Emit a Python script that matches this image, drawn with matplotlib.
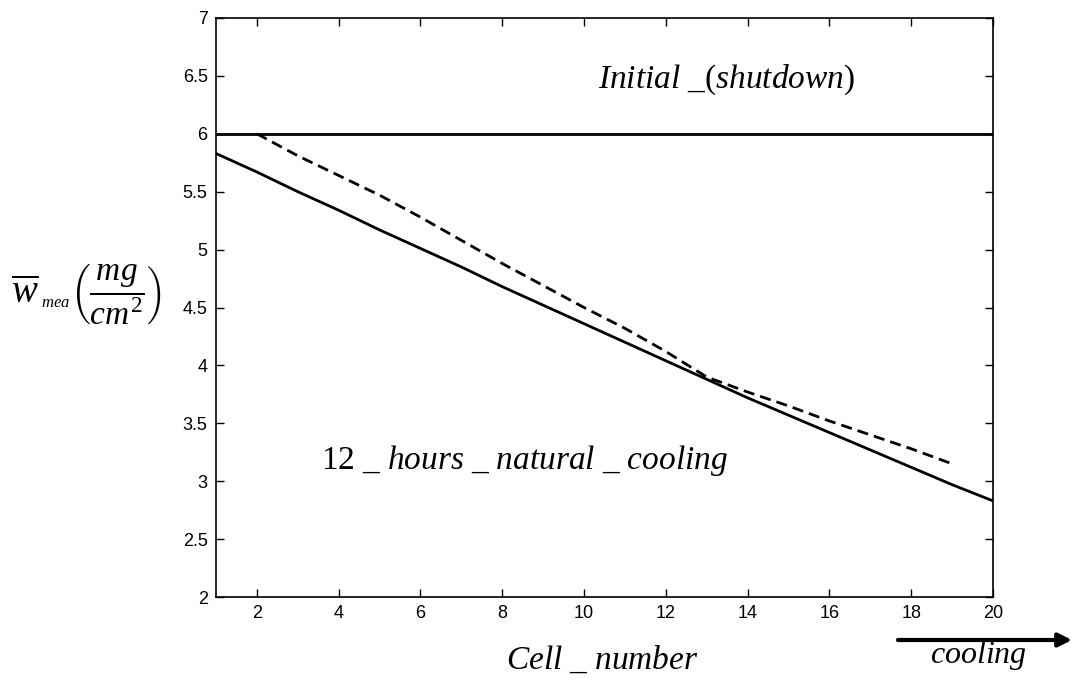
import matplotlib
matplotlib.use("Agg")
import matplotlib.pyplot as plt

plt.rcParams['mathtext.fontset'] = 'custom'
plt.rcParams['mathtext.rm'] = 'Liberation Serif'
plt.rcParams['mathtext.it'] = 'Liberation Serif:italic'
plt.rcParams['mathtext.bf'] = 'Liberation Serif:bold'
plt.rcParams['font.family'] = ['Liberation Sans', 'DejaVu Sans']

cells = list(range(1, 21))
natural_12h = [5.83, 5.67, 5.50, 5.34, 5.17, 5.01, 4.85, 4.68, 4.52, 4.36,
               4.20, 4.04, 3.88, 3.72, 3.57, 3.42, 3.27, 3.12, 2.97, 2.83]
cells_dashed = list(range(2, 20))
dashed_vals = [6.00, 5.81, 5.64, 5.47, 5.28, 5.08, 4.88, 4.69, 4.50, 4.32,
               4.12, 3.90, 3.77, 3.65, 3.52, 3.40, 3.28, 3.15]
initial_x = [1, 20]
initial_y = [6.0, 6.0]

xticks = [2, 4, 6, 8, 10, 12, 14, 16, 18, 20]
yticks = [2, 2.5, 3, 3.5, 4, 4.5, 5, 5.5, 6, 6.5, 7]
ytick_labels = ['2', '2.5', '3', '3.5', '4', '4.5', '5', '5.5', '6', '6.5', '7']

fig = plt.figure(figsize=(10.73, 6.80), dpi=100)
ax = fig.add_axes([216/1073, 1-597/680, (993-216)/1073, (597-18)/680])

ax.plot(initial_x, initial_y, color='black', lw=2.0)
ax.plot(cells, natural_12h, color='black', lw=2.0)
ax.plot(cells_dashed, dashed_vals, color='black', lw=2.0, linestyle=(0, (4, 2.2)))

ax.set_xlim(1, 20)
ax.set_ylim(2, 7)
ax.set_xticks(xticks)
ax.set_yticks(yticks)
ax.set_yticklabels(ytick_labels)
ax.tick_params(direction='in', length=6, width=1, top=True, right=True,
               labelsize=13, pad=6, colors='black')
for s in ax.spines.values():
    s.set_linewidth(1.2)

fig.text(727/1073, 1-80/680, r"$Initial\ \_(shutdown)$",
         fontsize=24, ha='center', va='center')
fig.text(525/1073, 1-460/680, r"$12\ \_\ hours\ \_\ natural\ \_\ cooling$",
         fontsize=24, ha='center', va='center')

fig.text(602/1073, 1-660/680, r"$Cell\ \_\ number$", fontsize=24, ha='center', va='center')
fig.text(979/1073, 1-656/680, r"$cooling$", fontsize=23, ha='center', va='center')

# y-axis label pieces
fig.text(11/1073, 1-303/680, r"$\overline{w}$", fontsize=28, ha='left', va='baseline')
fig.text(41/1073, 1-307/680, r"$mea$", fontsize=12, ha='left', va='baseline')
fig.text(116/1073, 1-295/680, r"$\left(\dfrac{mg}{cm^2}\right)$",
         fontsize=24, ha='center', va='center')

fig.add_artist(matplotlib.patches.FancyArrowPatch(
    (898/1073, 1-640/680), (1072/1073, 1-640/680), transform=fig.transFigure,
    arrowstyle='-|>,head_length=8,head_width=4', lw=3, color='black',
    mutation_scale=1, shrinkA=0, shrinkB=0))

fig.savefig('out.png', dpi=100, facecolor='white')
